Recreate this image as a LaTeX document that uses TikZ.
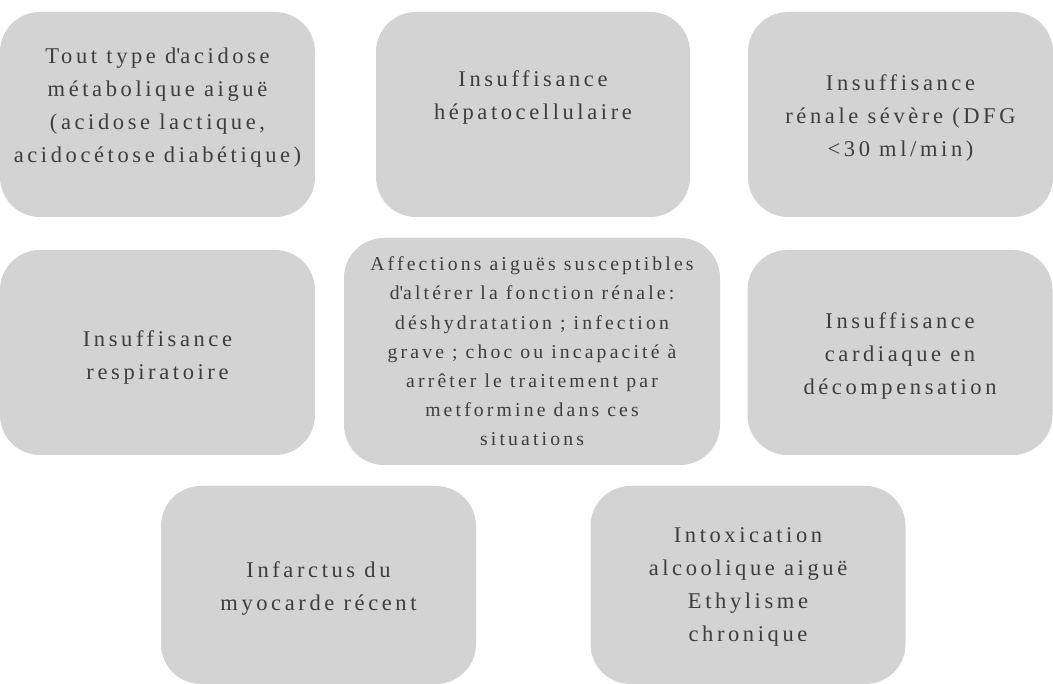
\documentclass[tikz,border=0pt]{standalone}
\usepackage{fontspec}
\setmainfont{Liberation Serif}[LetterSpace=16]
\definecolor{boxgray}{HTML}{D3D3D3}
\definecolor{txtgray}{HTML}{3D3D3D}
\tikzset{
  cbox/.style={fill=boxgray, rounded corners=40pt, inner sep=0pt},
  ctext/.style={text=txtgray, align=center, inner sep=0pt,
    font=\fontsize{22.5}{33}\selectfont},
  csmall/.style={ctext, font=\fontsize{19.7}{29.2}\selectfont}
}

\begin{document}
\begin{tikzpicture}[x=1pt, y=-1pt]
			%%%%% START %%%%%
			\useasboundingbox[fill=white] (0, 0) rectangle (1053, 684);
			
			% first row
			\node[cbox, minimum width=315pt, minimum height=205pt] (acidose) at (157.5, 114.5) {};
			\node[ctext, yshift=7pt] (acidoseT) at (acidose)
			  {Tout type d\textquotesingle acidose\\métabolique aiguë\\(acidose lactique,\\acidocétose diabétique)};
			\node[cbox, minimum width=314pt, minimum height=205pt] (hepato) at (533, 114.5) {};
			\node[ctext, yshift=17pt] (hepatoT) at (hepato)
			  {Insuffisance\\hépatocellulaire};
			\node[cbox, minimum width=305pt, minimum height=205pt] (renale) at (900.5, 114.5) {};
			\node[ctext, yshift=-3pt] (renaleT) at (renale)
			  {Insuffisance\\rénale sévère (DFG\\<30 ml/min)};
			
			% second row
			\node[cbox, minimum width=315pt, minimum height=205pt] (respi) at (157.5, 352.5) {};
			\node[ctext, yshift=-5pt] (respiT) at (respi)
			  {Insuffisance\\respiratoire};
			\node[cbox, minimum width=376pt, minimum height=227pt] (affect) at (532, 351.5) {};
			\node[csmall] (affectT) at (affect)
			  {Affections aiguës susceptibles\\d\textquotesingle altérer la fonction rénale:\\déshydratation ; infection\\grave ; choc ou incapacité à\\arrêter le traitement par\\metformine dans ces\\situations};
			\node[cbox, minimum width=305pt, minimum height=205pt] (cardio) at (900, 352.5) {};
			\node[ctext, yshift=-3pt] (cardioT) at (cardio)
			  {Insuffisance\\cardiaque en\\décompensation};
			
			% third row
			\node[cbox, minimum width=315pt, minimum height=198pt] (infarct) at (318.5, 585) {};
			\node[ctext, yshift=-4pt] (infarctT) at (infarct)
			  {Infarctus du\\myocarde récent};
			\node[cbox, minimum width=315pt, minimum height=198pt] (alcool) at (748, 585) {};
			\node[ctext, yshift=-2pt] (alcoolT) at (alcool)
			  {Intoxication\\alcoolique aiguë\\Ethylisme\\chronique};
			%%%%% END %%%%%
\end{tikzpicture}
\end{document}
